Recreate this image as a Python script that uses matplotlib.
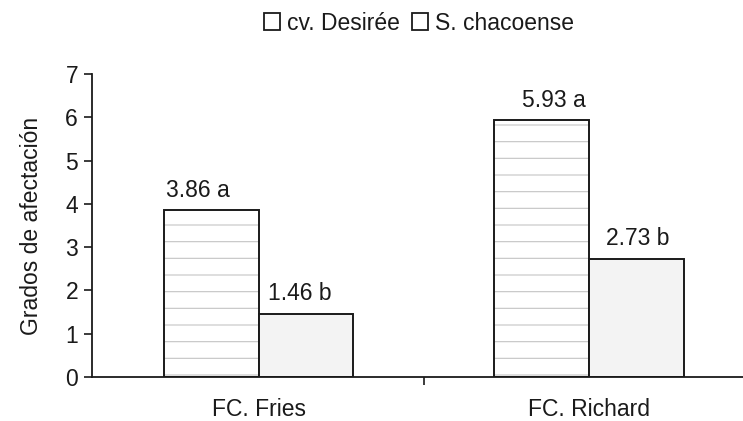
import numpy as np
import matplotlib
matplotlib.use('Agg')
import matplotlib.pyplot as plt
from matplotlib.patches import Patch

plt.rcParams['font.family'] = ['Liberation Sans', 'DejaVu Sans']
plt.rcParams['hatch.linewidth'] = 0.8

# datos
categorias = ['FC. Fries', 'FC. Richard']
series = ['cv. Desirée', 'S. chacoense']
desiree = [3.86, 5.93]
chacoense = [1.46, 2.73]
letras_desiree = ['a', 'a']
letras_chacoense = ['b', 'b']

fs = 16.5
tc = '#1a1a1a'

fig = plt.figure(figsize=(7.43, 4.21), dpi=100)
ax = fig.add_axes([92/743, 44/421, 1 - 92/743, 303/421])

x = np.arange(len(categorias))
w = 0.286
# relleno rayado (gris claro) y luego el contorno negro
ax.bar(x - w, desiree, w, align='edge', facecolor='white', edgecolor='#c4c4c4',
       linewidth=0, hatch='-')
b1 = ax.bar(x - w, desiree, w, align='edge', facecolor='none', edgecolor=tc,
            linewidth=1.4, label=series[0])
b2 = ax.bar(x, chacoense, w, align='edge', facecolor='#f3f3f3', edgecolor=tc,
            linewidth=1.4, label=series[1])

# etiquetas sobre las barras (desplazamiento horizontal en puntos, como en el original)
dx1 = [-10, 9]
dx2 = [-4, 1]
for rect, v, l, d in zip(b1, desiree, letras_desiree, dx1):
    ax.annotate('%.2f %s' % (v, l), (rect.get_x() + rect.get_width()/2, v),
                xytext=(d, 6), textcoords='offset points', ha='center', va='bottom',
                fontsize=fs, color=tc)
for rect, v, l, d in zip(b2, chacoense, letras_chacoense, dx2):
    ax.annotate('%.2f %s' % (v, l), (rect.get_x() + rect.get_width()/2, v),
                xytext=(d, 6), textcoords='offset points', ha='center', va='bottom',
                fontsize=fs, color=tc)

ax.set_yticks(range(0, 8))
ax.set_xticks(x)
ax.set_xticklabels(categorias, fontsize=fs, color=tc)
ax.set_xticks([0.5], minor=True)
ax.set_xlim(-0.504, 1.466)
ax.set_ylim(0, 7)
ax.tick_params(axis='x', which='major', length=0, pad=15)
ax.tick_params(axis='x', which='minor', length=6, width=1.2, direction='out', color=tc)
ax.tick_params(axis='y', length=6, width=1.2, labelsize=fs, color=tc, labelcolor=tc, pad=4)
ax.set_ylabel('Grados de afectación', fontsize=fs, color=tc, labelpad=16)

for s in ['top', 'right']:
    ax.spines[s].set_visible(False)
for s in ['left', 'bottom']:
    ax.spines[s].set_linewidth(1.3)
    ax.spines[s].set_color(tc)

handles = [Patch(facecolor='white', edgecolor=tc, linewidth=1.3, label=series[0]),
           Patch(facecolor='white', edgecolor=tc, linewidth=1.3, label=series[1])]
fig.legend(handles=handles, loc='center', bbox_to_anchor=(419/743, 1 - 23/421), ncol=2,
           frameon=False, fontsize=fs, handlelength=0.7, handleheight=0.7,
           handletextpad=0.3, columnspacing=0.55, labelcolor=tc,
           borderpad=0, borderaxespad=0)

fig.savefig('out.png', dpi=100)
